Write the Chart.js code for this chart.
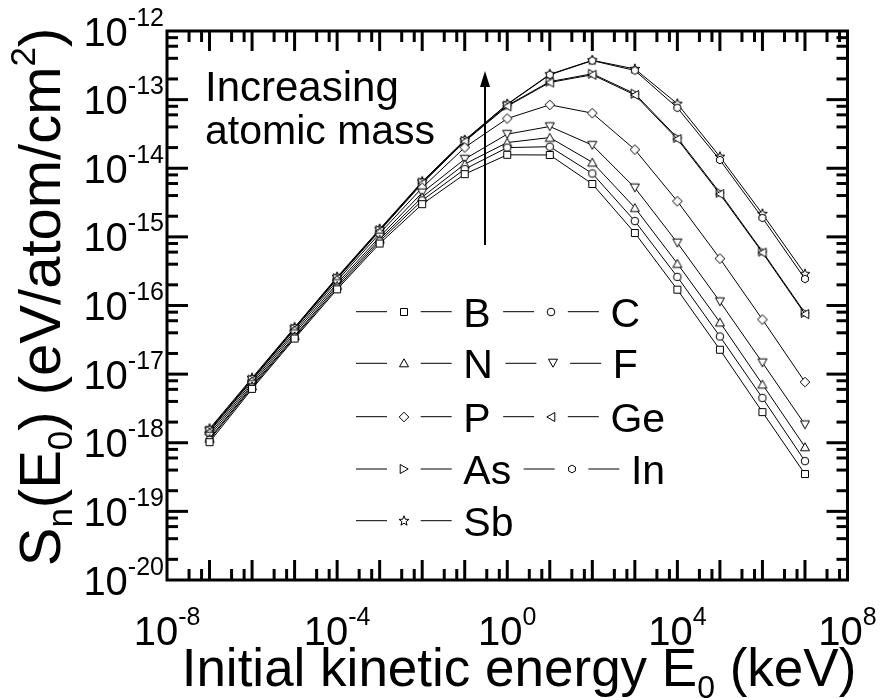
<!DOCTYPE html>
<html><head><meta charset="utf-8">
<script src="https://cdn.jsdelivr.net/npm/chart.js@4/dist/chart.umd.min.js"></script>
<style>html,body{margin:0;padding:0;background:#fff;}canvas{display:block;}</style>
</head><body>
<canvas id="c" width="880" height="698"></canvas>
<script>
// ---- data ----
const energies = [1e-7,1e-6,1e-5,1e-4,1e-3,1e-2,1e-1,1,1e1,1e2,1e3,1e4,1e5,1e6,1e7];
const seriesNames = ['B','C','N','F','P','Ge','As','In','Sb'];
const B  = [1.02e-18,6.1e-18,3.3e-17,1.72e-16,8.0e-16,3.0e-15,8.2e-15,1.57e-14,1.56e-14,5.9e-15,1.14e-15,1.7e-16,2.27e-17,2.8e-18,3.5e-19];
const C  = [1.1e-18,6.4e-18,3.45e-17,1.82e-16,8.6e-16,3.4e-15,9.7e-15,2.0e-14,2.06e-14,8.4e-15,1.7e-15,2.61e-16,3.54e-17,4.5e-18,5.4e-19];
const N  = [1.15e-18,6.7e-18,3.6e-17,1.95e-16,9.2e-16,3.8e-15,1.15e-14,2.37e-14,2.8e-14,1.22e-14,2.66e-15,4.08e-16,5.7e-17,7.1e-18,8.7e-19];
const F  = [1.25e-18,7.1e-18,3.9e-17,2.1e-16,1.0e-15,4.4e-15,1.36e-14,3.14e-14,4.06e-14,2.17e-14,5.2e-15,8.2e-16,1.14e-16,1.47e-17,1.84e-18];
const P  = [1.35e-18,7.6e-18,4.2e-17,2.3e-16,1.12e-15,5.2e-15,2.01e-14,5.3e-14,8.4e-14,6.35e-14,1.87e-14,3.3e-15,4.83e-16,6.25e-17,7.66e-18];
const Ge = [1.45e-18,8.1e-18,4.5e-17,2.45e-16,1.22e-15,6.0e-15,2.45e-14,8.0e-14,1.78e-13,2.3e-13,1.17e-13,2.66e-14,4.2e-15,5.9e-16,7.5e-17];
const As = [1.5e-18,8.3e-18,4.6e-17,2.5e-16,1.25e-15,6.2e-15,2.5e-14,8.2e-14,1.83e-13,2.38e-13,1.22e-13,2.78e-14,4.4e-15,6.1e-16,7.8e-17];
const In = [1.55e-18,8.5e-18,4.7e-17,2.55e-16,1.27e-15,6.3e-15,2.55e-14,8.5e-14,2.3e-13,3.7e-13,2.66e-13,7.6e-14,1.32e-14,1.89e-15,2.44e-16];
const Sb = [1.6e-18,8.8e-18,4.8e-17,2.6e-16,1.3e-15,6.4e-15,2.57e-14,8.6e-14,2.34e-13,3.74e-13,2.8e-13,8.7e-14,1.47e-14,2.16e-15,2.87e-16];
const seriesValues = [B,C,N,F,P,Ge,As,In,Sb];
const markerShapes = ['square','circle','triUp','triDown','diamond','triLeft','triRight','hexagon','star'];
const xTickExponents = [-8,-4,0,4,8];
const yTickExponents = [-20,-19,-18,-17,-16,-15,-14,-13,-12];
const legendRows = [['B','C'],['N','F'],['P','Ge'],['As','In'],['Sb']];
const noteLines = ['Increasing','atomic mass'];

const FONT = '"Liberation Sans", Arial, Helvetica, sans-serif';

// ---- marker images ----
function shapePath(ctx, shape, x, y) {
  ctx.beginPath();
  const poly = pts => { ctx.moveTo(x+pts[0][0], y+pts[0][1]); for (let i=1;i<pts.length;i++) ctx.lineTo(x+pts[i][0], y+pts[i][1]); ctx.closePath(); };
  switch (shape) {
    case 'square': ctx.rect(x-3.5, y-3.5, 7, 7); break;
    case 'circle': ctx.arc(x, y, 3.8, 0, Math.PI*2); break;
    case 'triUp': poly([[0,-4.2],[4.5,3.8],[-4.5,3.8]]); break;
    case 'triDown': poly([[0,4.2],[4.5,-3.8],[-4.5,-3.8]]); break;
    case 'triLeft': poly([[-4.2,0],[3.8,-4.5],[3.8,4.5]]); break;
    case 'triRight': poly([[4.2,0],[-3.8,-4.5],[-3.8,4.5]]); break;
    case 'diamond': poly([[0,-4.8],[4.8,0],[0,4.8],[-4.8,0]]); break;
    case 'hexagon': { const p=[]; for (let i=0;i<6;i++){ const a=Math.PI/6+i*Math.PI/3; p.push([3.9*Math.cos(a),3.9*Math.sin(a)]);} poly(p); break; }
    case 'star': { const p=[]; for (let i=0;i<10;i++){ const a=-Math.PI/2+i*Math.PI/5; const r=i%2?2.2:5.2; p.push([r*Math.cos(a),r*Math.sin(a)]);} poly(p); break; }
  }
}
function makeMarker(shape) {
  const cv = document.createElement('canvas');
  cv.width = 16; cv.height = 16;
  const c = cv.getContext('2d');
  shapePath(c, shape, 8, 8);
  c.fillStyle = '#fff'; c.fill();
  c.lineWidth = 1; c.strokeStyle = '#000'; c.stroke();
  return cv;
}
const markerImages = {};
markerShapes.forEach(s => markerImages[s] = makeMarker(s));

// ---- rich text helper ----
function partsWidth(ctx, parts) {
  let w = 0;
  for (const p of parts) { ctx.font = p.s + 'px ' + FONT; w += ctx.measureText(p.t).width; }
  return w;
}
function drawRich(ctx, parts, x, y, align) {
  const w = partsWidth(ctx, parts);
  let cx = align === 'center' ? x - w/2 : (align === 'right' ? x - w : x);
  ctx.textAlign = 'left'; ctx.textBaseline = 'alphabetic';
  for (const p of parts) {
    ctx.font = p.s + 'px ' + FONT;
    ctx.fillText(p.t, cx, y + (p.dy || 0));
    cx += ctx.measureText(p.t).width;
  }
  return w;
}

const xMinor = [3.3, 6.5];
const yMinor = [2, 4, 6, 8];

const decoPlugin = {
  id: 'deco',
  afterDraw(chart) {
    const ctx = chart.ctx, a = chart.chartArea;
    const xs = chart.scales.x, ys = chart.scales.y;
    ctx.save();
    ctx.strokeStyle = '#000'; ctx.fillStyle = '#000'; ctx.lineCap = 'butt';
    const seg = (x1,y1,x2,y2) => { ctx.beginPath(); ctx.moveTo(x1,y1); ctx.lineTo(x2,y2); ctx.stroke(); };
    ctx.lineWidth = 3;
    // x ticks
    for (let e = -8; e < 8; e++) {
      const base = Math.pow(10, e);
      if (e > -8) { const px = xs.getPixelForValue(base); seg(px, a.bottom, px, a.bottom-20); seg(px, a.top, px, a.top+20); }
      for (const m of xMinor) { const px = xs.getPixelForValue(m*base); seg(px, a.bottom, px, a.bottom-11); seg(px, a.top, px, a.top+11); }
    }
    // y ticks
    for (let e = -20; e < -12; e++) {
      const base = Math.pow(10, e);
      if (e > -20) { const py = ys.getPixelForValue(base); seg(a.left, py, a.left+21, py); seg(a.right, py, a.right-21, py); }
      for (const m of yMinor) { const py = ys.getPixelForValue(m*base); seg(a.left, py, a.left+11, py); seg(a.right, py, a.right-11, py); }
    }
    ctx.strokeRect(a.left, a.top, a.right-a.left, a.bottom-a.top);

    // tick labels
    for (const e of xTickExponents) {
      const px = xs.getPixelForValue(Math.pow(10, e));
      drawRich(ctx, [{t:'10', s:40}, {t:String(e), s:25, dy:-20}], px, 645, 'center');
    }
    for (const e of yTickExponents) {
      const py = ys.getPixelForValue(Math.pow(10, e));
      drawRich(ctx, [{t:'10', s:40}, {t:String(e), s:25, dy:-20}], 164, py + 14.5, 'right');
    }
    // axis titles
    drawRich(ctx, [{t:'Initial kinetic energy E', s:53}, {t:'0', s:32, dy:12}, {t:' (keV)', s:53}], 519, 686, 'center');
    ctx.save();
    ctx.translate(60, 297); ctx.rotate(-Math.PI/2);
    drawRich(ctx, [{t:'S', s:58}, {t:'n', s:35, dy:12}, {t:'(E', s:58}, {t:'0', s:35, dy:12}, {t:') (eV/atom/cm', s:58}, {t:'2', s:35, dy:-25}, {t:')', s:58}], 0, 0, 'center');
    ctx.restore();

    // note + arrow
    ctx.font = '42px ' + FONT; ctx.textAlign = 'left'; ctx.textBaseline = 'alphabetic';
    ctx.fillText(noteLines[0], 205, 101);
    ctx.font = '41px ' + FONT;
    ctx.fillText(noteLines[1], 205, 144);
    ctx.lineWidth = 2;
    seg(485, 245, 485, 84);
    ctx.beginPath(); ctx.moveTo(485, 71); ctx.lineTo(480, 87); ctx.lineTo(490, 87); ctx.closePath(); ctx.fill();

    // legend
    const rowY = [311.7, 363.3, 416.7, 469, 520.7];
    ctx.lineWidth = 1;
    legendRows.forEach((row, ri) => {
      let sx = 356;
      const y = rowY[ri];
      row.forEach(name => {
        const idx = seriesNames.indexOf(name);
        seg(sx, y, sx+31, y);
        ctx.drawImage(markerImages[markerShapes[idx]], Math.round(sx+48)-8, Math.round(y)-8);
        seg(sx+64.7, y, sx+95.7, y);
        ctx.font = '41px ' + FONT;
        ctx.fillText(name, sx+107.3, y + 14.8);
        const w = ctx.measureText(name).width;
        sx = sx + 107.3 + w + 12.5;
      });
    });
    ctx.restore();
  }
};

const datasets = seriesNames.map((name, i) => ({
  label: name,
  data: energies.map((e, j) => ({x: e, y: seriesValues[i][j]})),
  borderColor: '#000',
  borderWidth: 1,
  backgroundColor: '#fff',
  pointStyle: markerImages[markerShapes[i]],
  pointRadius: 4,
  pointHoverRadius: 4,
  tension: 0,
  fill: false
}));

new Chart(document.getElementById('c'), {
  type: 'line',
  data: { datasets },
  options: {
    responsive: false,
    devicePixelRatio: 1,
    animation: false,
    events: [],
    layout: { padding: { left: 167, top: 31, right: 32.5, bottom: 118 } },
    plugins: { legend: { display: false }, tooltip: { enabled: false }, title: { display: false } },
    scales: {
      x: { type: 'logarithmic', min: 1e-8, max: 1e8, display: false },
      y: { type: 'logarithmic', min: 1e-20, max: 1e-12, display: false }
    }
  },
  plugins: [decoPlugin]
});
</script>
</body></html>
